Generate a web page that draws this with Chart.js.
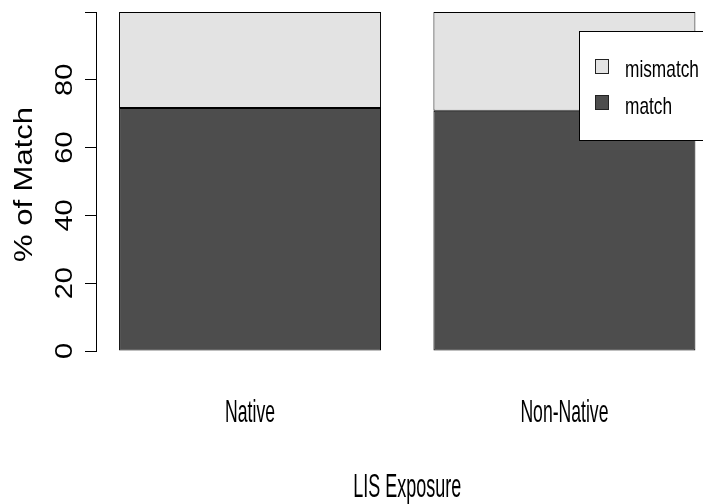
<!DOCTYPE html>
<html>
<head>
<meta charset="utf-8">
<script src="https://cdn.jsdelivr.net/npm/chart.js@4.4.1/dist/chart.umd.min.js"></script>
<style>
  html, body { margin: 0; padding: 0; background: #fff; overflow: hidden; }
  #wrap { width: 703px; height: 504px; }
</style>
</head>
<body>
<div id="wrap"><canvas id="chart" width="703" height="504"></canvas></div>
<script>
// data
const categories = ['Native', 'Non-Native'];
const barPositions = [0.7, 1.9];
const matchValues = [71.7, 70.9];
const mismatchValues = [28.3, 29.1];
const yTickLabels = ['0', '20', '40', '60', '80'];
const yTickValues = [0, 20, 40, 60, 80];
const seriesNames = ['match', 'mismatch'];
const seriesColors = ['#4d4d4d', '#e3e3e3'];
const xTitle = 'LIS Exposure';
const yTitle = '% of Match';

const FONT = '"Liberation Sans", Arial, Helvetica, sans-serif';

// draw a text, optionally rotated and squeezed
function drawText(ctx, str, x, y, size, sx, sy, rot, align) {
    ctx.save();
    ctx.translate(x, y);
    if (rot) ctx.rotate(rot);
    ctx.scale(sx, sy);
    ctx.font = size + 'px ' + FONT;
    ctx.fillStyle = '#000';
    ctx.textAlign = align || 'center';
    ctx.textBaseline = 'alphabetic';
    ctx.fillText(str, 0, 0);
    ctx.restore();
}

const textPlugin = {
    id: 'rtext',
    afterDraw(chart) {
        const ctx = chart.ctx;
        const xs = chart.scales.x;
        const ys = chart.scales.y;

        // y tick labels, rotated like R's las=0
        yTickValues.forEach((v, i) => {
            drawText(ctx, yTickLabels[i], 72, ys.getPixelForValue(v), 29, 1, 0.82, -Math.PI / 2);
        });
        // y title
        drawText(ctx, yTitle, 32, (ys.top + ys.bottom) / 2 + 3, 31, 1, 0.85, -Math.PI / 2);

        // category labels under the bars
        categories.forEach((c, i) => {
            drawText(ctx, c, xs.getPixelForValue(barPositions[i]), 422, 32, 0.55, 1, 0);
        });
        // x title, centred on the plot region
        const mid = (barPositions[0] + barPositions[1]) / 2;
        drawText(ctx, xTitle, xs.getPixelForValue(mid), 497, 33, 0.545, 1, 0);

        // legend box (runs past the right edge like the original)
        ctx.save();
        ctx.fillStyle = '#fff';
        ctx.strokeStyle = '#000';
        ctx.lineWidth = 1;
        ctx.fillRect(579.5, 31.5, 200, 109);
        ctx.strokeRect(579.5, 31.5, 200, 109);
        const order = [1, 0];
        const rows = [59.5, 95.5];
        const bases = [76.5, 114];
        order.forEach((di, r) => {
            const ds = chart.data.datasets[di];
            ctx.fillStyle = ds.backgroundColor;
            ctx.fillRect(595.5, rows[r], 13, 14);
            ctx.strokeStyle = '#222';
            ctx.strokeRect(595.5, rows[r], 13, 14);
            drawText(ctx, ds.label, 625, bases[r], 24, 0.72, 1, 0, 'left');
        });
        ctx.restore();
    }
};

const ctx = document.getElementById('chart').getContext('2d');
new Chart(ctx, {
    type: 'bar',
    data: {
        datasets: [
            {
                label: seriesNames[0],
                data: barPositions.map((x, i) => ({ x: x, y: matchValues[i] })),
                backgroundColor: seriesColors[0],
                borderColor: '#000',
                borderWidth: 1,
                borderSkipped: false
            },
            {
                label: seriesNames[1],
                data: barPositions.map((x, i) => ({ x: x, y: mismatchValues[i] })),
                backgroundColor: seriesColors[1],
                borderColor: '#000',
                borderWidth: 1,
                borderSkipped: false
            }
        ]
    },
    options: {
        responsive: false,
        animation: false,
        barPercentage: 1 / 1.2,
        categoryPercentage: 1,
        layout: { padding: { top: 12, bottom: 153, left: 0, right: 0 } },
        plugins: {
            legend: { display: false },
            tooltip: { enabled: false }
        },
        scales: {
            x: {
                type: 'linear',
                stacked: true,
                offset: false,
                bounds: 'data',
                min: 0.112,
                max: 2.429,
                display: false,
                afterBuildTicks: function (scale) {
                    scale.ticks = barPositions.map(v => ({ value: v }));
                }
            },
            y: {
                stacked: true,
                min: 0,
                max: 100,
                ticks: { display: false, stepSize: 20 },
                grid: { drawOnChartArea: false, drawTicks: true, tickLength: 11, color: '#000' },
                border: { display: true, color: '#000' },
                afterFit: function (scale) {
                    scale.width = 96;
                }
            }
        }
    },
    plugins: [textPlugin]
});
</script>
</body>
</html>
